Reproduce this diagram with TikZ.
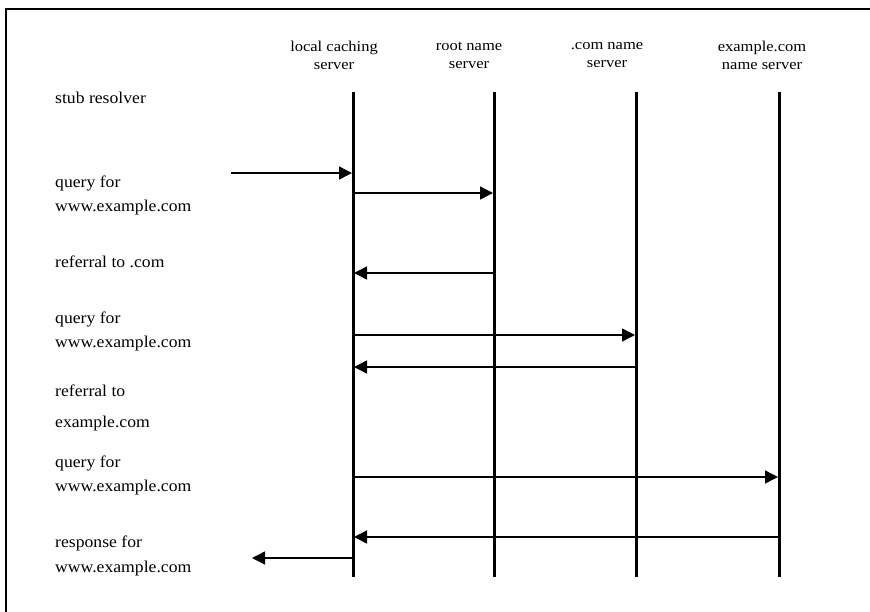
\documentclass[tikz,border=0pt]{standalone}
\usepackage{fontspec}
\setmainfont{Liberation Serif}
\newfontfamily\bodyfont[FakeStretch=1.07]{Liberation Serif}
\newfontfamily\headfont[FakeStretch=1.1]{Liberation Serif}
\usetikzlibrary{arrows.meta}
\begin{document}
\begin{tikzpicture}[x=1pt,y=-1pt,
  lifeline/.style={line width=3pt},
  msg/.style={line width=1.5pt,-{Triangle[length=13pt,width=13pt]}},
  hdr/.style={font=\headfont\fontsize{15}{18}\selectfont,align=center,inner sep=0pt},
  lbl/.style={font=\bodyfont\fontsize{16.5}{24}\selectfont,anchor=base west,inner sep=0pt},
  frame/.style={line width=2pt}]
\useasboundingbox (0,0) rectangle (870,611);
% frame (top and left edges visible)
\coordinate (fTR) at (872,9);
\coordinate (fTL) at (6,9);
\coordinate (fBL) at (6,613);
\draw[frame] (fTR) -- (fTL) -- (fBL);
% headers
\node[hdr] (hL) at (334,55) {local caching\\server};
\node[hdr] (hR) at (469,55) {root name\\server};
\node[hdr] (hC) at (607,55) {.com name\\server};
\node[hdr] (hE) at (762,55) {example.com\\name server};
% lifelines
\coordinate (Lt) at (353,92); \coordinate (Lb) at (353,577);
\coordinate (Rt) at (494,92); \coordinate (Rb) at (494,577);
\coordinate (Ct) at (636,92); \coordinate (Cb) at (636,577);
\coordinate (Et) at (779,92); \coordinate (Eb) at (779,577);
\draw[lifeline] (Lt) -- (Lb);
\draw[lifeline] (Rt) -- (Rb);
\draw[lifeline] (Ct) -- (Cb);
\draw[lifeline] (Et) -- (Eb);
% labels
\node[lbl] (stub) at (55,103) {stub resolver};
\node[lbl] (l1a) at (55,187) {query for};
\node[lbl] (l1b) at (55,211) {www.example.com};
\node[lbl] (l2) at (55,267) {referral to .com};
\node[lbl] (l3a) at (55,323) {query for};
\node[lbl] (l3b) at (55,347) {www.example.com};
\node[lbl] (l4a) at (55,396) {referral to};
\node[lbl] (l4b) at (55,427) {example.com};
\node[lbl] (l5a) at (55,467) {query for};
\node[lbl] (l5b) at (55,491) {www.example.com};
\node[lbl] (l6a) at (55,547) {response for};
\node[lbl] (l6b) at (55,572) {www.example.com};
% message end points
\coordinate (m1s) at (231,173); \coordinate (m1e) at (352,173);
\coordinate (m2s) at (353,193); \coordinate (m2e) at (493,193);
\coordinate (m3s) at (494,273); \coordinate (m3e) at (354,273);
\coordinate (m4s) at (353,335); \coordinate (m4e) at (635,335);
\coordinate (m5s) at (636,367); \coordinate (m5e) at (354,367);
\coordinate (m6s) at (353,477); \coordinate (m6e) at (778,477);
\coordinate (m7s) at (779,537); \coordinate (m7e) at (354,537);
\coordinate (m8s) at (353,558); \coordinate (m8e) at (252,558);
\draw[msg] (m1s) -- (m1e);
\draw[msg] (m2s) -- (m2e);
\draw[msg] (m3s) -- (m3e);
\draw[msg] (m4s) -- (m4e);
\draw[msg] (m5s) -- (m5e);
\draw[msg] (m6s) -- (m6e);
\draw[msg] (m7s) -- (m7e);
\draw[msg] (m8s) -- (m8e);
\end{tikzpicture}
\end{document}
